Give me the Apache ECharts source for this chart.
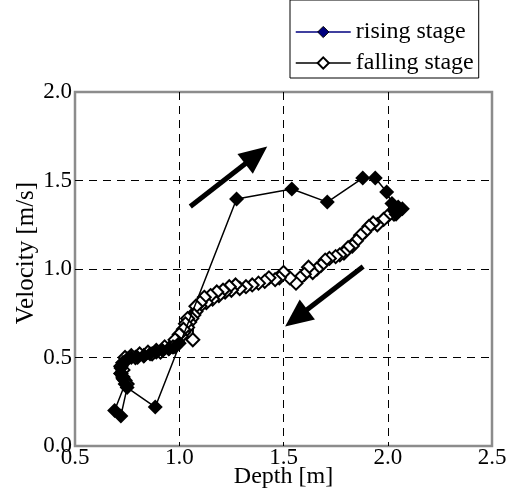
<!DOCTYPE html>
<html>
<head>
<meta charset="utf-8">
<script src="https://cdn.jsdelivr.net/npm/echarts@6/dist/echarts.min.js"></script>
<style>
  html, body { margin: 0; padding: 0; background: #fff; }
  #chart { width: 518px; height: 488px; }
</style>
</head>
<body>
<div id="chart"></div>
<script>
  'use strict';

  // rising stage (filled diamonds)
  const risingDepth = [1.00, 0.98, 0.95, 0.92, 0.89, 0.86, 0.83, 0.80, 0.77, 0.75, 0.73, 0.72, 0.72, 0.73, 0.74,
    0.69, 0.72, 0.75, 0.885, 1.275, 1.54, 1.71, 1.88, 1.94, 1.995, 2.02, 2.05, 2.07, 2.04, 2.03];
  const risingVel = [0.58, 0.56, 0.55, 0.54, 0.53, 0.52, 0.51, 0.50, 0.50, 0.49, 0.47, 0.44, 0.41, 0.38, 0.35,
    0.20, 0.17, 0.33, 0.22, 1.395, 1.452, 1.378, 1.514, 1.514, 1.435, 1.37, 1.35, 1.34, 1.31, 1.33];

  // falling stage (open diamonds)
  const fallingDepth = [2.05, 2.03, 2.00, 1.98, 1.95, 1.93, 1.91, 1.89, 1.87, 1.85, 1.83, 1.81, 1.79, 1.77, 1.75,
    1.72, 1.70, 1.68, 1.66, 1.64, 1.62, 1.60, 1.58, 1.56, 1.53, 1.50, 1.48, 1.46, 1.43, 1.41,
    1.38, 1.35, 1.32, 1.29, 1.27, 1.25, 1.24, 1.22, 1.21, 1.19, 1.18, 1.16, 1.15, 1.13, 1.12,
    1.10, 1.10, 1.08, 1.08, 1.07, 1.065, 1.06, 1.05, 1.04, 1.04, 1.03, 1.02, 1.02, 1.01, 1.00,
    0.99, 0.98, 0.97, 0.95, 0.93, 0.91, 0.89, 0.87, 0.85, 0.83, 0.81, 0.79, 0.77, 0.75, 0.74,
    0.73, 0.72, 0.73, 0.72, 0.73, 0.74, 0.75];
  const fallingVel = [1.33, 1.31, 1.30, 1.28, 1.25, 1.26, 1.24, 1.21, 1.19, 1.16, 1.13, 1.12, 1.09, 1.08, 1.07,
    1.06, 1.05, 1.02, 1.00, 0.98, 1.01, 0.97, 0.95, 0.92, 0.95, 0.98, 0.95, 0.94, 0.95, 0.93,
    0.92, 0.91, 0.90, 0.89, 0.91, 0.88, 0.90, 0.87, 0.88, 0.85, 0.87, 0.83, 0.85, 0.81, 0.84,
    0.79, 0.81, 0.76, 0.79, 0.74, 0.60, 0.72, 0.70, 0.72, 0.67, 0.69, 0.64, 0.66, 0.62, 0.63,
    0.59, 0.60, 0.56, 0.55, 0.56, 0.53, 0.54, 0.52, 0.53, 0.51, 0.52, 0.50, 0.51, 0.49, 0.50,
    0.47, 0.45, 0.43, 0.41, 0.39, 0.37, 0.35];

  // arrows: [tailDepth, tailVel, headDepth, headVel]
  const arrowUp   = [1.053, 1.353, 1.369, 1.643];
  const arrowDown = [1.882, 1.014, 1.561, 0.723];

  const xTicks = [0.5, 2.5, 0.5]; // min, max, step
  const yTicks = [0.0, 2.0, 0.5];

  const FONT = '"Liberation Serif", "Times New Roman", serif';

  const zip = (a, b) => a.map((v, i) => [v, b[i]]);
  const arrow = (a) => [{ coord: [a[0], a[1]] }, { coord: [a[2], a[3]] }];

  const chart = echarts.init(document.getElementById('chart'), null, { renderer: 'canvas' });

  const axisCommon = {
    type: 'value',
    axisLine: { show: false },
    axisTick: { show: false },
    splitLine: {
      show: true,
      showMinLine: false,
      showMaxLine: false,
      lineStyle: { color: '#000', width: 1, type: [8, 6] }
    },
    nameLocation: 'middle',
    nameMoveOverlap: false
  };

  chart.setOption({
    animation: false,
    backgroundColor: '#fff',
    grid: {
      left: 75, right: 26, top: 92, bottom: 42,
      outerBoundsMode: 'none',
      containLabel: false,
      show: true,
      borderColor: '#8c8c8c',
      borderWidth: 2.5,
      backgroundColor: '#fff'
    },
    legend: {
      left: 290,
      top: 0,
      orient: 'vertical',
      padding: [19, 5, 2, 5],
      itemGap: 5,
      itemWidth: 55,
      itemHeight: 14,
      borderColor: '#000',
      borderWidth: 1,
      backgroundColor: '#fff',
      textStyle: { fontFamily: FONT, fontSize: 24, color: '#000', lineHeight: 26 },
      data: [
        {
          name: 'rising stage',
          itemStyle: { color: '#00007f', borderColor: '#000', borderWidth: 1 },
          lineStyle: { color: '#00007f', width: 1.5 }
        },
        {
          name: 'falling stage',
          itemStyle: { color: '#fff', borderColor: '#000', borderWidth: 2 },
          lineStyle: { color: '#000', width: 1.5 }
        }
      ]
    },
    xAxis: Object.assign({}, axisCommon, {
      min: xTicks[0], max: xTicks[1], interval: xTicks[2],
      name: 'Depth [m]',
      nameGap: 19,
      nameTextStyle: { fontFamily: FONT, fontSize: 24, color: '#000' },
      axisLabel: {
        margin: 0,
        fontFamily: FONT, fontSize: 23, color: '#000',
        formatter: (v) => v.toFixed(1)
      }
    }),
    yAxis: Object.assign({}, axisCommon, {
      min: yTicks[0], max: yTicks[1], interval: yTicks[2],
      name: 'Velocity [m/s]',
      nameGap: 36,
      nameRotate: 90,
      nameTextStyle: { fontFamily: FONT, fontSize: 25, color: '#000', padding: [0, 0, 0, 32] },
      axisLabel: {
        margin: 3,
        fontFamily: FONT, fontSize: 23, color: '#000',
        formatter: (v) => v.toFixed(1)
      }
    }),
    series: [
      {
        name: 'falling stage',
        type: 'line',
        data: zip(fallingDepth, fallingVel),
        symbol: 'diamond',
        symbolSize: 13,
        itemStyle: { color: '#fff', borderColor: '#000', borderWidth: 2 },
        lineStyle: { color: '#000', width: 1.5 },
        z: 3
      },
      {
        name: 'rising stage',
        type: 'line',
        data: zip(risingDepth, risingVel),
        symbol: 'diamond',
        symbolSize: 15,
        itemStyle: { color: '#000', borderColor: '#000', borderWidth: 0 },
        lineStyle: { color: '#000', width: 1.5 },
        z: 4,
        markLine: {
          silent: true,
          symbol: ['none', 'triangle'],
          symbolSize: [25, 28],
          label: { show: false },
          lineStyle: { color: '#000', width: 5, type: 'solid' },
          itemStyle: { color: '#000' },
          data: [arrow(arrowUp), arrow(arrowDown)]
        }
      }
    ]
  });
</script>
</body>
</html>
